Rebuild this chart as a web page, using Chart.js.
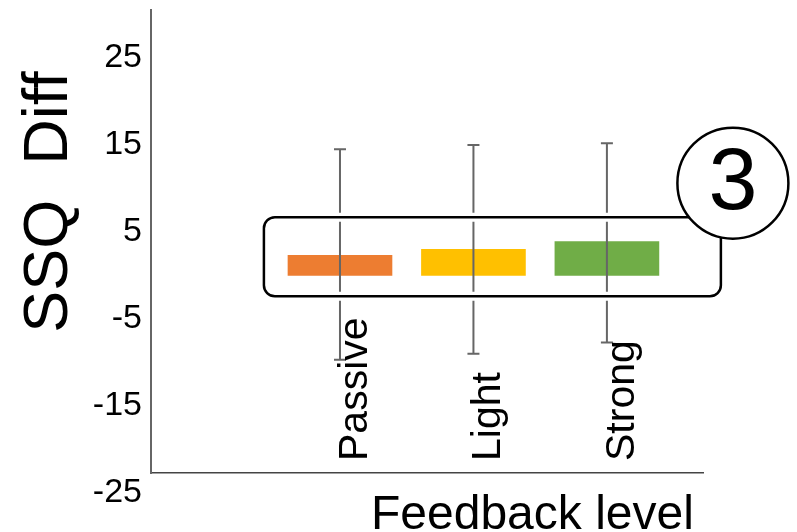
<!DOCTYPE html>
<html>
<head>
<meta charset="utf-8">
<script src="https://cdn.jsdelivr.net/npm/chart.js@4/dist/chart.umd.min.js"></script>
<style>
  html, body { margin: 0; padding: 0; background: #fff; }
  #wrap { width: 797px; height: 532px; }
</style>
</head>
<body>
<div id="wrap"><canvas id="c" width="797" height="532"></canvas></div>
<script>
// Mean SSQ difference per feedback level, with the spread shown as error bars
const categories = ['Passive', 'Light', 'Strong'];
const meanDiff = [2.3, 3.0, 3.9];
const errLow = [-9.7, -9.0, -7.7];
const errHigh = [14.5, 15.0, 15.2];
const yTicks = [-25, -15, -5, 5, 15, 25];
const barColors = ['#ED7D31', '#FFC000', '#70AD47'];
const groupLabel = '3';
const yTitle = 'SSQ  Diff';
const xTitle = 'Feedback level';

const FONT = '"Liberation Sans", Arial, Helvetica, sans-serif';

// Error bars, the highlighted group box with its numbered badge, and the text
const overlay = {
  id: 'overlay',
  afterDatasetsDraw(chart) {
    const { ctx, scales: { x, y }, chartArea } = chart;
    ctx.save();

    // error bars
    ctx.strokeStyle = '#666';
    ctx.lineWidth = 2;
    categories.forEach((c, i) => {
      const px = x.getPixelForValue(i);
      const top = y.getPixelForValue(errHigh[i]);
      const bot = y.getPixelForValue(errLow[i]);
      ctx.beginPath();
      ctx.moveTo(px, top); ctx.lineTo(px, bot);
      ctx.moveTo(px - 6, top); ctx.lineTo(px + 6, top);
      ctx.moveTo(px - 6, bot); ctx.lineTo(px + 6, bot);
      ctx.stroke();
    });

    // rounded box around the group
    const bl = x.getPixelForValue(-0.57);
    const br = x.getPixelForValue(2.854);
    const bt = y.getPixelForValue(6.7);
    const bb = y.getPixelForValue(-2.4);
    const rr = 11;
    const boxPath = () => {
      ctx.beginPath();
      ctx.roundRect(bl, bt, br - bl, bb - bt, rr);
    };
    boxPath();
    ctx.strokeStyle = '#fff';
    ctx.lineWidth = 9;
    ctx.stroke();
    boxPath();
    ctx.strokeStyle = '#000';
    ctx.lineWidth = 2.5;
    ctx.stroke();

    // numbered badge
    const cx = x.getPixelForValue(2.944);
    const cy = y.getPixelForValue(10.6);
    ctx.beginPath();
    ctx.arc(cx, cy, 55.5, 0, Math.PI * 2);
    ctx.fillStyle = '#fff';
    ctx.fill();
    ctx.strokeStyle = '#000';
    ctx.lineWidth = 2.5;
    ctx.stroke();
    ctx.fillStyle = '#000';
    ctx.font = '88px ' + FONT;
    ctx.textAlign = 'center';
    ctx.textBaseline = 'middle';
    ctx.fillText(groupLabel, cx, cy + 2);

    // category labels, rotated, reading upward from a common start line
    ctx.font = '41px ' + FONT;
    ctx.textAlign = 'left';
    ctx.textBaseline = 'alphabetic';
    categories.forEach((c, i) => {
      const px = x.getPixelForValue(i);
      ctx.save();
      ctx.translate(px + 27, chartArea.bottom - 12);
      ctx.rotate(-Math.PI / 2);
      ctx.fillText(c, 0, 0);
      ctx.restore();
    });

    // axis titles
    ctx.font = '63px ' + FONT;
    ctx.textAlign = 'center';
    ctx.textBaseline = 'middle';
    ctx.save();
    ctx.translate(50, 202);
    ctx.rotate(-Math.PI / 2);
    ctx.fillText(yTitle, 0, 0);
    ctx.restore();

    ctx.font = '48px ' + FONT;
    ctx.textAlign = 'left';
    ctx.textBaseline = 'alphabetic';
    ctx.fillText(xTitle, 371, 529);

    ctx.restore();
  }
};

new Chart(document.getElementById('c'), {
  type: 'bar',
  data: {
    datasets: [{
      data: categories.map((c, i) => ({ x: i, y: meanDiff[i] })),
      backgroundColor: barColors,
      borderWidth: 0,
      barThickness: 104
    }]
  },
  options: {
    responsive: false,
    animation: false,
    devicePixelRatio: 1,
    layout: { padding: { top: 10, right: 94, bottom: 59, left: 0 } },
    plugins: { legend: { display: false }, tooltip: { enabled: false } },
    scales: {
      x: {
        type: 'linear',
        offset: false,
        min: -1.416,
        max: 2.72,
        grid: { display: false, drawTicks: false, offset: false },
        ticks: { display: false },
        border: { display: true, color: '#444', width: 1.5 },
        afterFit(scale) {
          scale.height = 0;
          scale.paddingLeft = 0;
          scale.paddingRight = 0;
        }
      },
      y: {
        min: -22.7,
        max: 30.5,
        grid: { display: false, drawTicks: false },
        border: { display: true, color: '#666', width: 2 },
        ticks: {
          color: '#000',
          padding: 9,
          font: { family: FONT, size: 34 }
        },
        afterBuildTicks(scale) {
          scale.ticks = yTicks.map(v => ({ value: v }));
        },
        afterFit(scale) {
          scale.width = 151;
          scale.paddingTop = 0;
          scale.paddingBottom = 0;
        }
      }
    }
  },
  plugins: [overlay]
});
</script>
</body>
</html>
